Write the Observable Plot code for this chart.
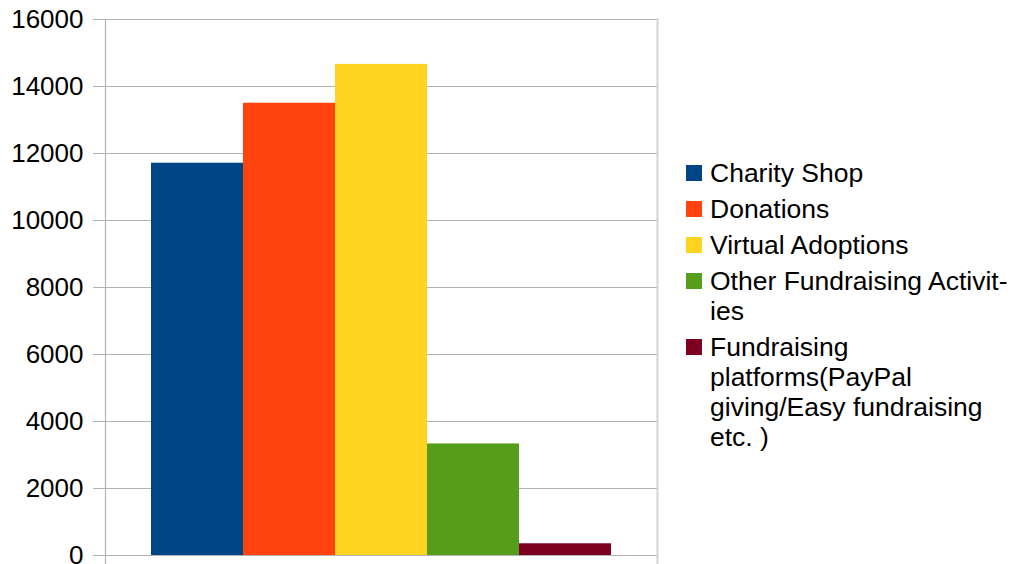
<!DOCTYPE html>
<html>
<head>
<meta charset="utf-8">
<script src="https://cdn.jsdelivr.net/npm/d3@7"></script>
<script src="https://cdn.jsdelivr.net/npm/@observablehq/plot@0.6"></script>
<style>
  html, body { margin: 0; padding: 0; background: white; overflow: hidden; }
  #wrap { display: flex; flex-direction: row; align-items: flex-start; width: 1016px; height: 564px; }
  #legend { margin-left: 16px; margin-top: 158px; font-family: "Liberation Sans", Arial, sans-serif; font-size: 26.5px; color: #000; }
  .item { display: flex; align-items: flex-start; margin-bottom: 6px; }
  .sw { width: 16px; height: 16px; flex: 0 0 16px; margin-top: 7px; margin-right: 8px; }
  .lbl { width: 300px; line-height: 30px; hyphens: manual; }
</style>
</head>
<body>
<div id="wrap"><div id="chart"></div><div id="legend"></div></div>
<script>
const series = ["Charity Shop", "Donations", "Virtual Adoptions", "Other Fundraising Activities", "Fundraising platforms(PayPal giving/Easy fundraising etc. )"];
const legendLabels = ["Charity Shop", "Donations", "Virtual Adoptions", "Other Fundraising Activit\u00ADies", "Fundraising platforms(PayPal giving/Easy fundraising etc. )"];
const values = [11710, 13500, 14660, 3330, 350];
const colors = ["#004586", "#ff420e", "#ffd320", "#579d1c", "#7e0021"];
const yTicks = [0, 2000, 4000, 6000, 8000, 10000, 12000, 14000, 16000];

const data = series.map((s, i) => ({series: s, value: values[i]}));

const chart = Plot.plot({
  width: 670,
  height: 564,
  marginLeft: 105,
  marginRight: 13,
  marginTop: 19,
  marginBottom: 9,
  style: {fontFamily: "'Liberation Sans', Arial, sans-serif", fontSize: "26px", color: "#000", background: "white"},
  x: {type: "band", domain: series, paddingInner: 0, paddingOuter: 0.5, axis: null},
  y: {domain: [0, 16000], axis: null},
  color: {domain: series, range: colors},
  marks: [
    Plot.ruleY(yTicks, {stroke: "#b3b3b3", strokeWidth: 1.2}),
    Plot.frame({anchor: "left", stroke: "#b3b3b3", strokeWidth: 1.2, insetBottom: -12}),
    Plot.frame({anchor: "right", stroke: "#d3d3d3", strokeWidth: 2, insetBottom: -12}),
    Plot.barY(data, {x: "series", y: "value", fill: "series"}),
    Plot.axisY({ticks: yTicks, label: null, tickSize: 12, tickPadding: 10, stroke: "#b3b3b3", fill: "#000", tickFormat: d => String(d), fontSize: 26})
  ]
});
document.getElementById("chart").appendChild(chart);

const legend = document.getElementById("legend");
legendLabels.forEach((l, i) => {
  const item = document.createElement("div");
  item.className = "item";
  const sw = document.createElement("div");
  sw.className = "sw";
  sw.style.background = colors[i];
  const lbl = document.createElement("div");
  lbl.className = "lbl";
  lbl.textContent = l;
  item.appendChild(sw);
  item.appendChild(lbl);
  legend.appendChild(item);
});
</script>
</body>
</html>
